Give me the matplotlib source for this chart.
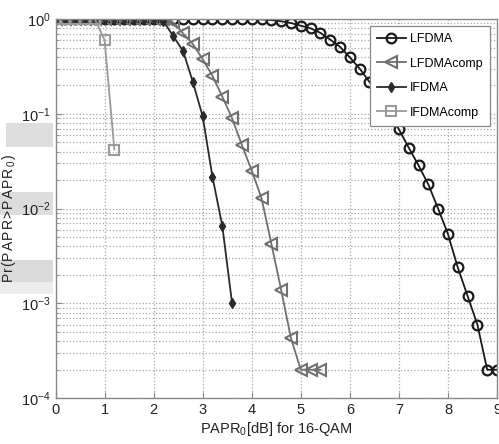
import matplotlib
matplotlib.use("Agg")
import matplotlib.pyplot as plt
from matplotlib.patches import Rectangle
from matplotlib import font_manager

# ---------------- data ----------------
x_lfdma = [0.0, 0.2, 0.4, 0.6, 0.8, 1.0, 1.2, 1.4, 1.6, 1.8, 2.0, 2.2, 2.4, 2.6, 2.8,
           3.0, 3.2, 3.4, 3.6, 3.8, 4.0, 4.2, 4.4, 4.6, 4.8, 5.0, 5.2, 5.4, 5.6, 5.8,
           6.0, 6.2, 6.4, 6.6, 6.8, 7.0, 7.2, 7.4, 7.6, 7.8, 8.0, 8.2, 8.4, 8.6, 8.8, 9.0]
y_lfdma = [1.0, 1.0, 1.0, 1.0, 1.0, 1.0, 1.0, 1.0, 1.0, 1.0, 1.0, 1.0, 1.0, 1.0, 1.0,
           1.0, 1.0, 1.0, 1.0, 1.0, 1.0, 0.99, 0.975, 0.946, 0.907, 0.849, 0.797, 0.715,
           0.607, 0.509, 0.394, 0.300, 0.217, 0.156, 0.104, 0.0687, 0.044, 0.0286,
           0.018, 0.010, 0.0054, 0.0024, 0.0012, 0.0006, 0.0002, 0.0002]

x_lfdma_comp = [0.0, 0.2, 0.4, 0.6, 0.8, 1.0, 1.2, 1.4, 1.6, 1.8, 2.0, 2.2, 2.4, 2.6,
                2.8, 3.0, 3.2, 3.4, 3.6, 3.8, 4.0, 4.2, 4.4, 4.6, 4.8, 5.0, 5.2, 5.4]
y_lfdma_comp = [1.0, 1.0, 1.0, 1.0, 1.0, 1.0, 1.0, 1.0, 1.0, 1.0, 1.0, 0.99, 0.92,
                0.706, 0.544, 0.377, 0.251, 0.152, 0.0896, 0.0468, 0.0252, 0.0129,
                0.00427, 0.00139, 0.00043, 0.0002, 0.0002, 0.0002]

x_ifdma = [0.0, 0.2, 0.4, 0.6, 0.8, 1.0, 1.2, 1.4, 1.6, 1.8, 2.0, 2.2, 2.4, 2.6, 2.8,
           3.0, 3.2, 3.4, 3.6]
y_ifdma = [1.0, 1.0, 1.0, 1.0, 1.0, 1.0, 1.0, 1.0, 1.0, 1.0, 1.0, 0.95, 0.66, 0.46,
           0.217, 0.094, 0.0216, 0.0066, 0.001]

x_ifdma_comp = [0.0, 0.2, 0.4, 0.6, 0.8, 1.0, 1.2]
y_ifdma_comp = [1.0, 1.0, 1.0, 1.0, 1.0, 0.6, 0.042]

labels = ["LFDMA", "LFDMAcomp", "IFDMA", "IFDMAcomp"]
x_ticks = [0, 1, 2, 3, 4, 5, 6, 7, 8, 9]

# ---------------- fonts ----------------
available = {f.name for f in font_manager.fontManager.ttflist}
fam = [f for f in ["Liberation Sans Narrow", "Liberation Sans", "DejaVu Sans"] if f in available]
plt.rcParams["font.family"] = fam
plt.rcParams["mathtext.fontset"] = "custom"
plt.rcParams["mathtext.rm"] = fam[0]
plt.rcParams["mathtext.it"] = fam[0]

W, H = 499, 444
fig = plt.figure(figsize=(W / 100, H / 100), dpi=100)
ax = fig.add_axes([55.5 / W, 1 - 398.3 / H, (497 - 55.5) / W, (398.3 - 19) / H])

# artifacts (light gray boxes left of the axis)
for (x0, y0, x1, y1, c) in [(6, 123, 53, 147, "#dedede"),
                            (0, 192, 53, 215, "#dcdcdc"),
                            (0, 260, 53, 282, "#dadada"),
                            (0, 282, 53, 294, "#ececec")]:
    fig.add_artist(Rectangle((x0 / W, 1 - y1 / H), (x1 - x0) / W, (y1 - y0) / H,
                             transform=fig.transFigure, facecolor=c,
                             edgecolor="none", zorder=0))

ax.semilogy(x_lfdma, y_lfdma, color="#1a1a1a", lw=1.3, marker="o", ms=7,
            mfc="none", mec="#1a1a1a", mew=1.6, label=labels[0])
ax.semilogy(x_lfdma_comp, y_lfdma_comp, color="#707070", lw=1.3, marker="<", ms=9,
            mfc="none", mec="#707070", mew=1.5, label=labels[1])
ax.semilogy(x_ifdma, y_ifdma, color="#2a2a2a", lw=1.3, marker="d", ms=5.5,
            mfc="#2a2a2a", mec="#2a2a2a", label=labels[2])
ax.semilogy(x_ifdma_comp, y_ifdma_comp, color="#9a9a9a", lw=1.3, marker="s", ms=7,
            mfc="none", mec="#9a9a9a", mew=1.5, label=labels[3])

ax.set_xlim(0, 9)
ax.set_ylim(1e-4, 1)
ax.set_xticks(x_ticks)
ax.set_xticklabels([str(t) for t in x_ticks])
ax.grid(True, which="major", axis="both", linestyle=":", color="#a8a8a8", lw=0.9)
ax.grid(True, which="minor", axis="y", linestyle=":", color="#a8a8a8", lw=0.9)
ax.tick_params(which="both", direction="in", labelsize=10.5, color="#888888",
               labelcolor="#222222")
ax.tick_params(which="major", length=4)
ax.tick_params(which="minor", length=2)
for s in ax.spines.values():
    s.set_color("#8a8a8a")
    s.set_linewidth(1.0)

ax.set_xlabel(r"PAPR$_0$[dB] for 16-QAM", fontsize=10.5, color="#222222", labelpad=2)
hs = "\u200a"
ylab = hs.join("Pr(PAPR>PAPR") + hs + r"$_0$" + hs + ")"
ax.set_ylabel(ylab, fontsize=10, color="#222222")
ax.yaxis.set_label_coords((18 - 55.5) / 441.5, (398.3 - 219) / 379.3)

leg = ax.legend(loc="upper right", fontsize=9, fancybox=False, framealpha=1,
                edgecolor="#888888", handlelength=2.3, handletextpad=0.35,
                labelspacing=1.0, borderaxespad=0.6, borderpad=0.55)
leg.get_frame().set_linewidth(0.9)

fig.savefig("out.png", dpi=100)
